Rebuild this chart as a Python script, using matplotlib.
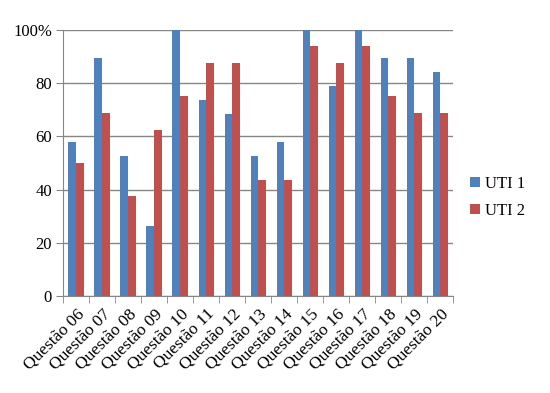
import matplotlib
matplotlib.use("Agg")
import matplotlib.pyplot as plt
import numpy as np

categories = ["Questão 06", "Questão 07", "Questão 08", "Questão 09", "Questão 10",
              "Questão 11", "Questão 12", "Questão 13", "Questão 14", "Questão 15",
              "Questão 16", "Questão 17", "Questão 18", "Questão 19", "Questão 20"]
uti1 = [57.9, 89.5, 52.6, 26.3, 100, 73.7, 68.4, 52.6, 57.9, 100, 78.9, 100, 89.5, 89.5, 84.2]
uti2 = [50.0, 68.75, 37.5, 62.5, 75.0, 87.5, 87.5, 43.75, 43.75, 93.75, 87.5, 93.75, 75.0, 68.75, 68.75]
series_names = ["UTI 1", "UTI 2"]
ytick_vals = [0, 20, 40, 60, 80, 100]
ytick_labels = ["0", "20", "40", "60", "80", "100%"]

plt.rcParams['font.family'] = ['Liberation Serif', 'DejaVu Serif']

fig = plt.figure(figsize=(5.5, 3.93), dpi=100)
ax = fig.add_axes([0.1145, 0.247, 0.7095, 0.677])

x = np.arange(len(categories))
w = 0.29
blue = "#4F81BD"
red = "#C0504D"
ax.bar(x - w/2, uti1, w, color=blue, label=series_names[0], zorder=3)
ax.bar(x + w/2, uti2, w, color=red, label=series_names[1], zorder=3)

ax.set_xlim(-0.5, len(categories) - 0.5)
ax.set_ylim(0, 100)
ax.set_yticks(ytick_vals)
ax.set_yticklabels(ytick_labels, fontsize=12)
ax.yaxis.grid(True, color="#868686", linewidth=1, zorder=0)
ax.set_axisbelow(True)

ax.set_xticks(x)
ax.set_xticklabels(categories, rotation=45, ha="right", rotation_mode="anchor", fontsize=12.5)
ax.tick_params(axis='x', which='major', length=0, pad=7)
ax.set_xticks(np.arange(-0.5, len(categories)), minor=True)
ax.tick_params(axis='x', which='minor', length=5, color="#868686", direction='out')
ax.tick_params(axis='y', length=5, color="#868686", direction='out', pad=3)

for s in ["top", "right"]:
    ax.spines[s].set_visible(False)
for s in ["left", "bottom"]:
    ax.spines[s].set_color("#868686")

ax.legend(loc="center left", bbox_to_anchor=(1.005, 0.37), frameon=False,
          fontsize=12, handlelength=0.6, handleheight=0.6, handletextpad=0.3,
          labelspacing=0.65)

fig.savefig("out.png", dpi=100)
